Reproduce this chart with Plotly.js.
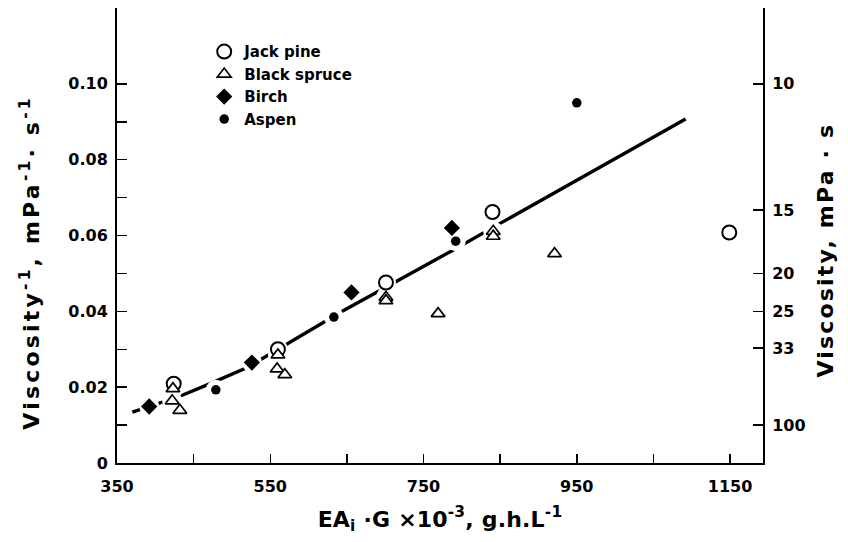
<!DOCTYPE html>
<html>
<head>
<meta charset="utf-8">
<script src="https://cdn.plot.ly/plotly-3.0.1.min.js"></script>
<style>
html,body{margin:0;padding:0;background:#fff;}
#chart{width:848px;height:542px;}
g.annotation[data-index="0"] text{letter-spacing:3.2px;}
g.annotation[data-index="1"] text{letter-spacing:2.2px;}
text.xtitle{letter-spacing:0.2px;}
</style>
</head>
<body>
<div id="chart"></div>
<script>
// ---- data ----
const jackPineX = [424, 560, 701, 840, 1149];
const jackPineY = [0.0209, 0.0300, 0.0476, 0.0662, 0.0608];

const blackSpruceX = [423, 422, 432, 560, 559, 569, 701, 701, 769, 841, 841, 921];
const blackSpruceY = [0.0196, 0.0164, 0.0139, 0.0285, 0.0248, 0.0233, 0.0437, 0.0428, 0.0394, 0.0611, 0.0598, 0.0552];

const birchX = [392, 526, 656, 787];
const birchY = [0.0149, 0.0265, 0.0450, 0.0620];

const aspenX = [479, 633, 792, 950];
const aspenY = [0.0193, 0.0385, 0.0585, 0.0950];

const fitX = [370, 404, 432, 470, 520, 644, 717, 789, 850, 954, 1092];
const fitY = [0.0134, 0.0156, 0.0176, 0.0208, 0.0252, 0.0400, 0.0481, 0.0562, 0.0632, 0.0750, 0.0907];

const xLabelVals = [350, 550, 750, 950, 1150];
const xMinorVals = [450, 650, 850, 1050];
const yLabelVals = [0, 0.02, 0.04, 0.06, 0.08, 0.10];
const yLabelText = ['0', '0.02', '0.04', '0.06', '0.08', '0.10'];
const yMinorVals = [0.01, 0.03, 0.05, 0.07, 0.09];
const viscosityLabels = [10, 15, 20, 25, 33, 100];

const FONT = 'DejaVu Sans, Liberation Sans, Arial, sans-serif';
const allX = jackPineX.concat(blackSpruceX, birchX, aspenX);
const allY = jackPineY.concat(blackSpruceY, birchY, aspenY);

const traces = [
  { x: fitX, y: fitY, mode: 'lines', line: {color: '#000', width: 3.4}, showlegend: false, hoverinfo: 'skip' },
  { x: allX, y: allY, mode: 'markers', marker: {color: '#fff', size: 20, symbol: 'circle', line: {width: 0}}, showlegend: false, hoverinfo: 'skip' },
  { name: 'Jack pine', legendgroup: 'a', x: jackPineX, y: jackPineY, mode: 'markers',
    marker: {symbol: 'circle-open', size: 14, color: '#000', line: {width: 2, color: '#000'}} },
  { name: 'Black spruce', legendgroup: 'b', x: blackSpruceX, y: blackSpruceY, mode: 'markers',
    marker: {symbol: 'triangle-up', size: 12, color: '#fff', line: {width: 1.7, color: '#000'}} },
  { name: 'Birch', legendgroup: 'c', x: birchX, y: birchY, mode: 'markers',
    marker: {symbol: 'diamond', size: 12.5, color: '#000', line: {width: 0}} },
  { name: 'Aspen', legendgroup: 'd', x: aspenX, y: aspenY, mode: 'markers',
    marker: {symbol: 'circle', size: 9.5, color: '#000', line: {width: 0}} },
  { x: [null], y: [null], yaxis: 'y2', mode: 'markers', showlegend: false, hoverinfo: 'skip' }
];

const tickFont = {family: FONT, size: 16, color: '#000', weight: 'bold'};
const titleFont = {family: FONT, size: 22, color: '#000', weight: 'bold'};

const layout = {
  width: 848, height: 542,
  margin: {l: 117, r: 85, t: 8, b: 79},
  paper_bgcolor: '#fff', plot_bgcolor: '#fff',
  showlegend: true,
  legend: {x: 0.135, y: 0.94, xanchor: 'left', yanchor: 'top', bgcolor: 'rgba(0,0,0,0)',
           font: {family: FONT, size: 15, color: '#000', weight: 'bold'},
           traceorder: 'grouped', tracegroupgap: 0, itemwidth: 30},
  xaxis: {
    range: [350, 1193], tickmode: 'array', tickvals: xLabelVals, ticktext: xLabelVals.map(String),
    ticks: 'inside', ticklen: 9, tickwidth: 1.5, tickcolor: '#000', ticklabelstandoff: 8,
    minor: {tickmode: 'array', tickvals: xMinorVals, ticks: 'inside', ticklen: 9, tickwidth: 1.5, tickcolor: '#000'},
    showline: true, linewidth: 2, linecolor: '#000', showgrid: false, zeroline: false,
    tickfont: tickFont,
    title: {text: 'EA<sub>i</sub> ·G ×10<sup>-3</sup>, g.h.L<sup>-1</sup>', font: titleFont, standoff: 16}
  },
  yaxis: {
    range: [0, 0.12], tickmode: 'array', tickvals: yLabelVals, ticktext: yLabelText,
    ticks: 'inside', ticklen: 10, tickwidth: 1.5, tickcolor: '#000', ticklabelstandoff: 4,
    minor: {tickmode: 'array', tickvals: yMinorVals, ticks: 'inside', ticklen: 10, tickwidth: 1.5, tickcolor: '#000'},
    showline: true, linewidth: 2, linecolor: '#000', showgrid: false, zeroline: false,
    tickfont: tickFont
  },
  yaxis2: {
    overlaying: 'y', side: 'right', anchor: 'x',
    range: [0, 0.12], tickmode: 'array',
    tickvals: viscosityLabels.map(v => 1 / v), ticktext: viscosityLabels.map(String),
    ticks: 'inside', ticklen: 10, tickwidth: 1.5, tickcolor: '#000', ticklabelstandoff: 4,
    showline: true, linewidth: 2, linecolor: '#000', showgrid: false, zeroline: false,
    tickfont: tickFont
  },
  annotations: [
    {text: 'Viscosity<sup>-1</sup>, mPa<sup>-1</sup>· s<sup>-1</sup>', xref: 'paper', yref: 'paper',
     x: -0.1347, y: 0.442, xanchor: 'center', yanchor: 'middle', textangle: -90, showarrow: false, font: titleFont},
    {text: 'Viscosity, mPa · s', xref: 'paper', yref: 'paper',
     x: 1.0975, y: 0.4685, xanchor: 'center', yanchor: 'middle', textangle: -90, showarrow: false, font: titleFont}
  ]
};

Plotly.newPlot('chart', traces, layout, {displayModeBar: false, staticPlot: true});
</script>
</body>
</html>
